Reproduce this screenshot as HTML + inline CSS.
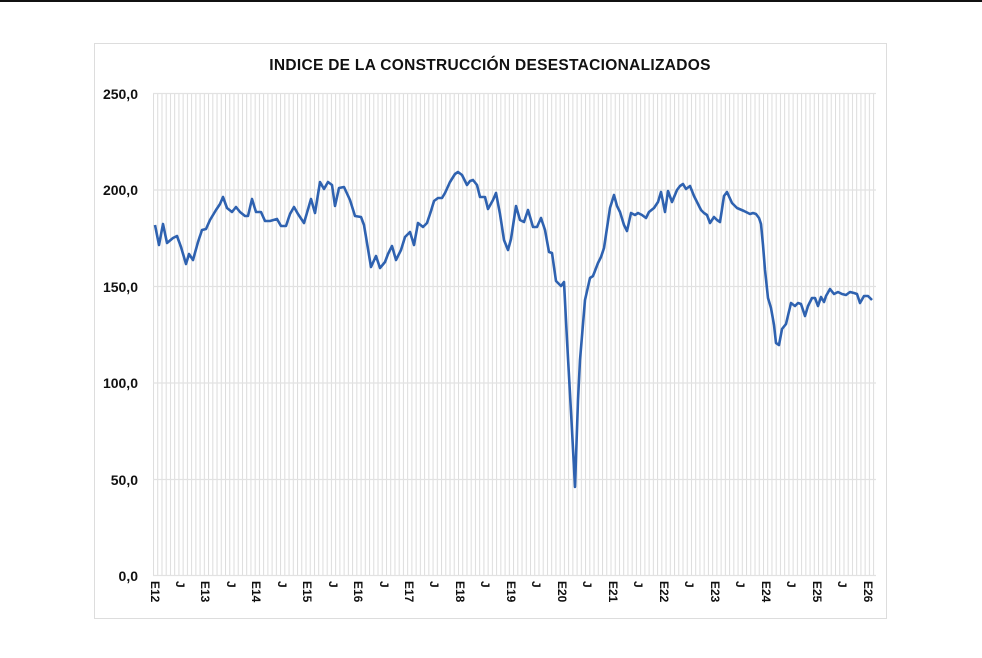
<!DOCTYPE html>
<html><head><meta charset="utf-8"><style>
body{margin:0;background:#fff;width:982px;height:658px;overflow:hidden;font-family:"Liberation Sans",sans-serif}
</style></head><body>
<svg width="982" height="658" xmlns="http://www.w3.org/2000/svg" style="position:absolute;left:0;top:0">
<rect x="0" y="0" width="982" height="2" fill="#111"/>
<rect x="94.5" y="43.5" width="792" height="575" fill="#fff" stroke="#ddd" stroke-width="1"/>
<text x="490" y="70" text-anchor="middle" font-family="Liberation Sans" font-weight="bold" font-size="15.5" letter-spacing="0.3" fill="#111">INDICE DE LA CONSTRUCCIÓN  DESESTACIONALIZADOS</text>
<defs><pattern id="vg" x="153" y="0" width="4.236" height="10" patternUnits="userSpaceOnUse"><rect x="0" y="0" width="1" height="10" fill="#dcdcdc"/></pattern></defs>
<rect x="153" y="93" width="723" height="483" fill="url(#vg)"/>
<g stroke="#e2e2e2" stroke-width="1.2">
<line x1="153" y1="93.5" x2="876" y2="93.5"/><line x1="153" y1="190" x2="876" y2="190"/><line x1="153" y1="286.5" x2="876" y2="286.5"/><line x1="153" y1="383" x2="876" y2="383"/><line x1="153" y1="479.5" x2="876" y2="479.5"/><line x1="153" y1="575.5" x2="876" y2="575.5"/>
</g>
<g font-family="Liberation Sans" font-weight="bold" font-size="14" fill="#111" text-anchor="end">
<text x="138" y="99">250,0</text><text x="138" y="195">200,0</text><text x="138" y="292">150,0</text><text x="138" y="388">100,0</text><text x="138" y="485">50,0</text><text x="138" y="581">0,0</text>
</g>
<g font-family="Liberation Sans" font-weight="bold" font-size="12" fill="#111">
<text transform="translate(151,581) rotate(90)">E12</text>
<text transform="translate(176,581) rotate(90)">J</text>
<text transform="translate(201,581) rotate(90)">E13</text>
<text transform="translate(227,581) rotate(90)">J</text>
<text transform="translate(252,581) rotate(90)">E14</text>
<text transform="translate(278,581) rotate(90)">J</text>
<text transform="translate(303,581) rotate(90)">E15</text>
<text transform="translate(329,581) rotate(90)">J</text>
<text transform="translate(354,581) rotate(90)">E16</text>
<text transform="translate(380,581) rotate(90)">J</text>
<text transform="translate(405,581) rotate(90)">E17</text>
<text transform="translate(430,581) rotate(90)">J</text>
<text transform="translate(456,581) rotate(90)">E18</text>
<text transform="translate(481,581) rotate(90)">J</text>
<text transform="translate(507,581) rotate(90)">E19</text>
<text transform="translate(532,581) rotate(90)">J</text>
<text transform="translate(558,581) rotate(90)">E20</text>
<text transform="translate(583,581) rotate(90)">J</text>
<text transform="translate(609,581) rotate(90)">E21</text>
<text transform="translate(634,581) rotate(90)">J</text>
<text transform="translate(660,581) rotate(90)">E22</text>
<text transform="translate(685,581) rotate(90)">J</text>
<text transform="translate(711,581) rotate(90)">E23</text>
<text transform="translate(736,581) rotate(90)">J</text>
<text transform="translate(762,581) rotate(90)">E24</text>
<text transform="translate(787,581) rotate(90)">J</text>
<text transform="translate(813,581) rotate(90)">E25</text>
<text transform="translate(838,581) rotate(90)">J</text>
<text transform="translate(864,581) rotate(90)">E26</text>
</g>
<polyline fill="none" stroke="#2f62b0" stroke-width="2.6" stroke-linejoin="round" points="155,225 159,245 163,224 167,243 173,238 177,236 181,247 186,264 189,254 193,260 198,242 202,230 206,229 210,220 216,210 220,204 223,197 227,208 232,212 236,207 240,212 245,216 248,216 252,199 256,212 261,212 265,221 270,221 277,219 281,226 286,226 290,214 294,207 298,214 304,223 311,199 315,213 320,182 324,189 328,182 332,185 335,206 339,188 344,187 350,200 355,216 361,217 364,225 369,255 371,267 376,256 380,268 385,262 388,254 392,246 396,260 401,250 405,237 410,232 414,245 418,223 423,227 427,223 431,211 434,201 438,198 442,198 445,193 450,182 455,174 458,172 462,175 467,185 470,181 473,180 477,185 480,197 485,197 488,209 493,200 496,193 500,214 504,240 508,250 511,239 516,206 520,220 524,222 528,210 533,227 537,227 541,218 545,230 549,252 552,253 556,281 559,284 561,286 564,282 567,340 572,430 575,487 578,400 580,360 585,300 590,278 593,276 598,263 601,257 604,248 607,228 610,208 614,195 617,206 620,212 624,225 627,231 631,213 635,215 638,213 642,215 646,218 649,212 654,208 658,202 661,192 665,212 668,191 672,202 677,190 680,186 683,184 686,189 690,186 694,196 697,202 701,210 704,213 707,215 710,223 714,217 717,220 720,222 724,196 727,192 732,203 737,208 744,211 750,214 753,213 756,214 759,218 761,224 763,245 765,270 768,298 771,308 774,325 776,343 779,345 782,329 786,324 791,303 795,306 798,303 801,304 805,316 808,306 812,298 815,298 818,306 821,297 824,302 826,296 830,289 834,294 838,292 842,294 846,295 850,292 854,293 857,294 860,303 864,296 868,296 872,300"/>
</svg>
</body></html>
